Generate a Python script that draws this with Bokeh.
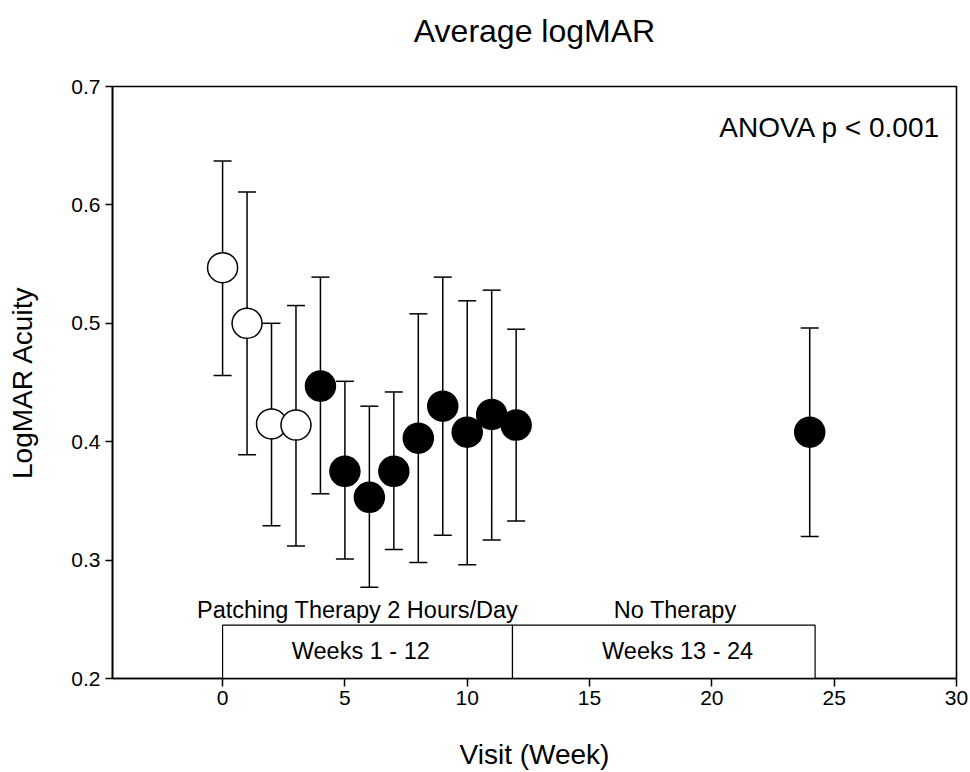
from bokeh.plotting import figure
from bokeh.models import FixedTicker, ColumnDataSource, Label, Title
from bokeh.embed import file_html
from bokeh.resources import INLINE
from bokeh.core.properties import value

# ---- data ----
weeks = [0, 1, 2, 3, 4, 5, 6, 7, 8, 9, 10, 11, 12, 24]
mean_logmar = [0.547, 0.500, 0.415, 0.414, 0.447, 0.375, 0.353, 0.375, 0.403, 0.430, 0.408, 0.423, 0.414, 0.408]
upper_ci = [0.637, 0.611, 0.500, 0.515, 0.539, 0.451, 0.430, 0.442, 0.508, 0.539, 0.519, 0.528, 0.495, 0.496]
lower_ci = [0.456, 0.389, 0.329, 0.312, 0.356, 0.301, 0.277, 0.309, 0.298, 0.321, 0.296, 0.317, 0.333, 0.320]
baseline_weeks = 4  # first four visits drawn as open circles

phase_start = [0, 11.85]
phase_end = [11.85, 24.22]
phase_labels = ["Weeks 1 - 12", "Weeks 13 - 24"]
phase_titles = ["Patching Therapy 2 Hours/Day", "No Therapy"]
phase_label_x = [5.65, 18.6]
phase_title_x = [5.52, 18.5]

x_ticks = [0, 5, 10, 15, 20, 25, 30]
y_ticks = [0.2, 0.3, 0.4, 0.5, 0.6, 0.7]

FONT = "Liberation Sans"

p = figure(width=970, height=772, x_range=(-4.5, 30), y_range=(0.2, 0.7),
           output_backend="svg", toolbar_location=None,
           min_border_left=112, min_border_right=14, min_border_top=86, min_border_bottom=94,
           title="Average logMAR")
p.title.align = "center"
p.title.text_font = FONT
p.title.text_font_size = "32px"
p.title.text_font_style = "normal"
p.title.text_color = "black"
p.title.standoff = 0
# blank spacer between the title and the plot frame
p.add_layout(Title(text=" ", text_font_size="2px", standoff=34), "above")

p.grid.visible = False
p.outline_line_color = "black"
p.outline_line_width = 1.6
p.background_fill_color = "white"
p.border_fill_color = "white"

for ax in (p.xaxis[0], p.yaxis[0]):
    ax.axis_line_width = 1.6
    ax.axis_line_color = "black"
    ax.major_tick_line_color = "black"
    ax.major_tick_line_width = 1.5
    ax.major_tick_in = 0
    ax.minor_tick_line_color = None
    ax.major_label_text_font = FONT
    ax.major_label_text_font_size = "21px"
    ax.major_label_text_color = "black"
    ax.axis_label_text_font = FONT
    ax.axis_label_text_font_style = "normal"
    ax.axis_label_text_color = "black"

p.xaxis.ticker = FixedTicker(ticks=x_ticks)
p.yaxis.ticker = FixedTicker(ticks=y_ticks)
p.xaxis.major_tick_out = 8
p.yaxis.major_tick_out = 7
p.xaxis.major_label_standoff = 4
p.yaxis.major_label_standoff = 5
p.xaxis.axis_label = "Visit (Week)"
p.yaxis.axis_label = "LogMAR Acuity"
p.xaxis.axis_label_text_font_size = "28px"
p.yaxis.axis_label_text_font_size = "28px"
p.xaxis.axis_label_standoff = 31
p.yaxis.axis_label_standoff = 30

# phase boxes
box_src = ColumnDataSource(dict(left=phase_start, right=phase_end,
                                bottom=[0.2, 0.2], top=[0.245, 0.245],
                                lx=phase_label_x, tx=phase_title_x,
                                label=phase_labels, title=phase_titles))
p.quad(left="left", right="right", bottom="bottom", top="top", source=box_src,
       fill_color="white", line_color="black", line_width=1.2)
p.text(x="lx", y=0.2235, text="label", source=box_src, text_font=value(FONT),
       text_font_size="23.5px", text_align="center", text_baseline="middle", text_color="black")
p.text(x="tx", y=0.2575, text="title", source=box_src, text_font=value(FONT),
       text_font_size="23.5px", text_align="center", text_baseline="middle", text_color="black")

# error bars
src = ColumnDataSource(dict(x=weeks, y=mean_logmar, up=upper_ci, lo=lower_ci,
                            fill=["white"] * baseline_weeks + ["black"] * (len(weeks) - baseline_weeks)))
p.segment(x0="x", y0="lo", x1="x", y1="up", source=src, line_color="black", line_width=1.5)
p.scatter(x="x", y="up", source=src, marker="dash", size=18, line_color="black", line_width=1.5)
p.scatter(x="x", y="lo", source=src, marker="dash", size=18, line_color="black", line_width=1.5)
p.scatter(x="x", y="y", source=src, marker="circle", size=30, fill_color="fill",
          line_color="black", line_width=1.5)

p.add_layout(Label(x=29.35, y=0.665, text="ANOVA p < 0.001", text_align="right",
                   text_baseline="middle", text_font=FONT, text_font_size="28px",
                   text_color="black"))

open("out.html", "w").write(file_html(p, INLINE))
